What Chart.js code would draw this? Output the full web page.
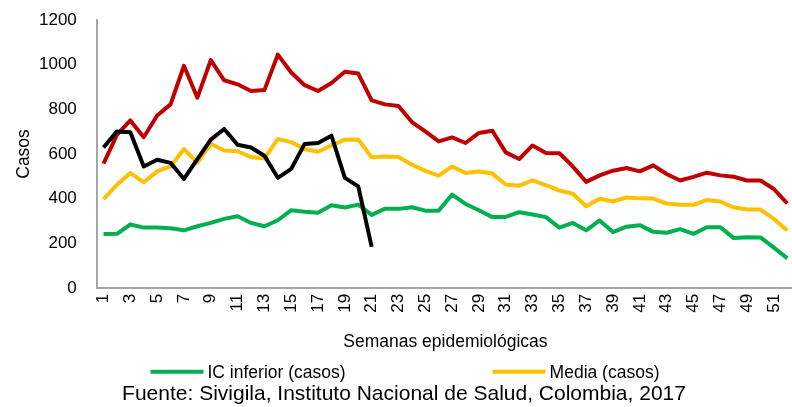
<!DOCTYPE html>
<html lang="es">
<head>
  <meta charset="UTF-8">
  <title>Casos por semana epidemiológica</title>
  <script src="https://cdn.jsdelivr.net/npm/chart.js"></script>
  <style>
    html, body { margin: 0; padding: 0; overflow: hidden; background: #fff; }
    #wrap { width: 810px; height: 407px; position: relative; }
  </style>
</head>
<body>
  <div id="wrap"><canvas id="chart"></canvas></div>

  <script>
    // Semanas epidemiológicas 1-52
    var semanas = [];
    for (var s = 1; s <= 52; s++) semanas.push(String(s));

    var yTicks = [0, 200, 400, 600, 800, 1000, 1200];

    // Valores
    var icSuperior = [557, 685, 750, 675, 772, 822, 995, 852, 1020, 930, 912, 882, 886, 1045, 965, 908, 882, 918, 968, 960,
                      840, 822, 815, 743, 701, 656, 674, 649, 694, 704, 607, 577, 638, 604, 603, 544, 475, 504, 525, 537,
                      522, 549, 510, 481, 497, 516, 504, 498, 481, 481, 443, 378];
    var media = [398, 462, 515, 473, 522, 544, 622, 560, 646, 615, 612, 586, 579, 667, 653, 622, 610, 638, 664, 665,
                 585, 589, 586, 552, 524, 503, 544, 515, 521, 512, 463, 458, 482, 460, 436, 422, 366, 399, 387, 405,
                 401, 400, 378, 372, 372, 394, 387, 361, 351, 351, 309, 257];
    var icInferior = [241, 242, 284, 270, 270, 267, 258, 276, 291, 309, 321, 291, 276, 303, 348, 341, 337, 370, 360, 373,
                      327, 355, 354, 361, 346, 346, 418, 376, 348, 317, 318, 339, 329, 317, 270, 291, 258, 302, 250, 274,
                      281, 251, 247, 263, 242, 272, 272, 223, 227, 226, 180, 132];
    var casos2017 = [629, 701, 697, 544, 574, 560, 488, 577, 664, 712, 641, 629, 592, 493, 533, 645, 649, 682, 493, 455, 184];

    var fuente = '"Liberation Sans", Arial, sans-serif';
    var axisGray = '#a6a6a6';

    // Leyenda dibujada a mano: solo dos series, con mucho espacio entre ellas
    var legendaPlugin = {
      id: 'leyendaManual',
      afterDraw: function(chart) {
        var ctx = chart.ctx;
        var items = chart.data.datasets.filter(function(d) { return d.enLeyenda; });
        var lineW = 53, gap = 4, spacing = 147;
        ctx.save();
        ctx.font = '17.5px ' + fuente;
        var total = 0;
        items.forEach(function(d, i) {
          total += lineW + gap + ctx.measureText(d.label).width;
          if (i > 0) total += spacing;
        });
        var x = chart.width / 2 - total / 2;
        var y = chart.scales.x.bottom + 19;
        ctx.textBaseline = 'middle';
        ctx.fillStyle = '#000';
        items.forEach(function(d) {
          ctx.strokeStyle = d.borderColor;
          ctx.lineWidth = 4;
          ctx.beginPath();
          ctx.moveTo(x, y);
          ctx.lineTo(x + lineW, y);
          ctx.stroke();
          x += lineW + gap;
          ctx.fillText(d.label, x, y + 1);
          x += ctx.measureText(d.label).width + spacing;
        });
        ctx.restore();
      }
    };

    var ctx = document.getElementById('chart').getContext('2d');
    new Chart(ctx, {
      type: 'line',
      data: {
        labels: semanas,
        datasets: [
          { label: 'Casos 2017', data: casos2017, borderColor: '#000000', backgroundColor: '#000000', enLeyenda: false },
          { label: 'IC inferior (casos)', data: icInferior, borderColor: '#00b050', backgroundColor: '#00b050', enLeyenda: true },
          { label: 'Media (casos)', data: media, borderColor: '#ffc000', backgroundColor: '#ffc000', enLeyenda: true },
          { label: 'IC superior (casos)', data: icSuperior, borderColor: '#c00000', backgroundColor: '#c00000', enLeyenda: false }
        ]
      },
      options: {
        responsive: true,
        maintainAspectRatio: false,
        animation: false,
        elements: {
          point: { radius: 0 },
          line: { borderWidth: 4, tension: 0, borderJoinStyle: 'round' }
        },
        layout: { padding: { left: 14, right: 16, top: 20, bottom: 0 } },
        scales: {
          x: {
            offset: true,
            grid: { display: false, drawTicks: true, tickLength: 6 },
            border: { display: true, color: axisGray, width: 2 },
            ticks: {
              autoSkip: false,
              minRotation: 90,
              maxRotation: 90,
              padding: 0,
              color: '#000',
              font: { family: fuente, size: 17 },
              callback: function(v, i) { return (i % 2 === 0) ? semanas[i] : ''; }
            },
            title: {
              display: true,
              text: 'Semanas epidemiológicas',
              color: '#000',
              font: { family: fuente, size: 17.5 },
              padding: { top: 19, bottom: 0 }
            }
          },
          y: {
            min: 0,
            max: 1200,
            grid: { display: false, drawTicks: true, tickLength: 20 },
            border: { display: true, color: axisGray, width: 2 },
            afterBuildTicks: function(axis) {
              axis.ticks = yTicks.map(function(v) { return { value: v }; });
            },
            ticks: {
              padding: 0,
              color: '#000',
              font: { family: fuente, size: 17 },
              callback: function(v) { return String(v); }
            },
            title: {
              display: true,
              text: 'Casos',
              color: '#000',
              font: { family: fuente, size: 17.5 },
              padding: { top: 0, bottom: 4 }
            }
          }
        },
        plugins: {
          legend: { display: false },
          tooltip: { enabled: false },
          title: {
            display: true,
            position: 'bottom',
            text: 'Fuente: Sivigila, Instituto Nacional de Salud, Colombia, 2017',
            color: '#000',
            font: { family: fuente, size: 21, weight: 'normal' },
            padding: { top: 29, bottom: 0 }
          }
        }
      },
      plugins: [legendaPlugin]
    });
  </script>
</body>
</html>
